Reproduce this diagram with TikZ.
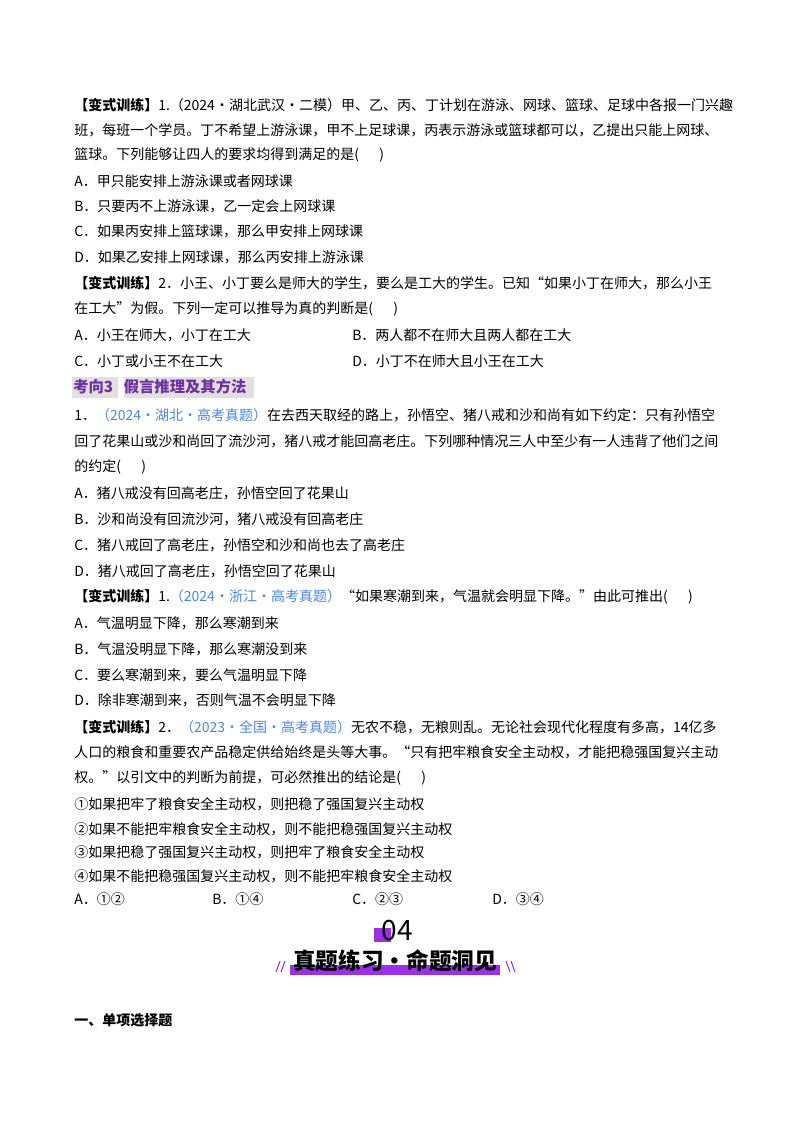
\documentclass[tikz,border=0pt]{standalone}
\usepackage{fontspec}
\setmainfont{Noto Sans CJK SC}
\definecolor{pur}{HTML}{7030A0}
\definecolor{blu}{HTML}{4A86E8}
\definecolor{hl}{HTML}{E0E0E0}
\definecolor{bar}{HTML}{9B30E8}
\begin{document}
\begin{tikzpicture}[x=0.75pt,y=-0.75pt,
  t/.style={anchor=west,inner sep=0pt,font=\fontsize{10.5pt}{12pt}\selectfont},
  sb/.style={text=blu}]
\useasboundingbox (0,0) rectangle (800,1132);
\node[t] (a1) at (74,105) {\textbf{【变式训练】}1.（2024·湖北武汉·二模）甲、乙、丙、丁计划在游泳、网球、篮球、足球中各报一门兴趣};
\node[t] (a2) at (74,130) {班，每班一个学员。丁不希望上游泳课，甲不上足球课，丙表示游泳或篮球都可以，乙提出只能上网球、};
\node[t] (a3) at (74,155) {篮球。下列能够让四人的要求均得到满足的是(\quad\ \ )};
\node[t] (a4) at (74,181) {A．甲只能安排上游泳课或者网球课};
\node[t] (a5) at (74,206) {B．只要丙不上游泳课，乙一定会上网球课};
\node[t] (a6) at (74,231) {C．如果丙安排上篮球课，那么甲安排上网球课};
\node[t] (a7) at (74,257) {D．如果乙安排上网球课，那么丙安排上游泳课};
\node[t] (b1) at (74,283) {\textbf{【变式训练】}2．小王、小丁要么是师大的学生，要么是工大的学生。已知“如果小丁在师大，那么小王};
\node[t] (b2) at (74,309) {在工大”为假。下列一定可以推导为真的判断是(\quad\ \ )};
\node[t] (b3) at (74,335) {A．小王在师大，小丁在工大};
\node[t] (b4) at (352,335) {B．两人都不在师大且两人都在工大};
\node[t] (b5) at (74,361) {C．小丁或小王不在工大};
\node[t] (b6) at (352,361) {D．小丁不在师大且小王在工大};
\fill[hl] (72,377) rectangle (118,398);
\fill[hl] (124,377) rectangle (254,398);
\node[t,text=pur,font=\fontsize{11.5pt}{13pt}\selectfont\bfseries] (h) at (73,387) {考向3\ \ \ 假言推理及其方法};
\node[t] (c1) at (74,415) {1．\textcolor{blu}{（2024·湖北·高考真题）}在去西天取经的路上，孙悟空、猪八戒和沙和尚有如下约定：只有孙悟空};
\node[t] (c2) at (74,441) {回了花果山或沙和尚回了流沙河，猪八戒才能回高老庄。下列哪种情况三人中至少有一人违背了他们之间};
\node[t] (c3) at (74,467) {的约定(\quad\ \ )};
\node[t] (c4) at (74,493) {A．猪八戒没有回高老庄，孙悟空回了花果山};
\node[t] (c5) at (74,519) {B．沙和尚没有回流沙河，猪八戒没有回高老庄};
\node[t] (c6) at (74,545) {C．猪八戒回了高老庄，孙悟空和沙和尚也去了高老庄};
\node[t] (c7) at (74,571) {D．猪八戒回了高老庄，孙悟空回了花果山};
\node[t] (d1) at (74,597) {\textbf{【变式训练】}1.\textcolor{blu}{（2024·浙江·高考真题）}“如果寒潮到来，气温就会明显下降。”由此可推出(\quad\ \ )};
\node[t] (d2) at (74,623) {A．气温明显下降，那么寒潮到来};
\node[t] (d3) at (74,649) {B．气温没明显下降，那么寒潮没到来};
\node[t] (d4) at (74,675) {C．要么寒潮到来，要么气温明显下降};
\node[t] (d5) at (74,700) {D．除非寒潮到来，否则气温不会明显下降};
\node[t] (e1) at (74,727) {\textbf{【变式训练】}2．\textcolor{blu}{（2023·全国·高考真题）}无农不稳，无粮则乱。无论社会现代化程度有多高，14亿多};
\node[t] (e2) at (74,752) {人口的粮食和重要农产品稳定供给始终是头等大事。“只有把牢粮食安全主动权，才能把稳强国复兴主动};
\node[t] (e3) at (74,778) {权。”以引文中的判断为前提，可必然推出的结论是(\quad\ \ )};
\node[t] (e4) at (74,804) {①如果把牢了粮食安全主动权，则把稳了强国复兴主动权};
\node[t] (e5) at (74,829) {②如果不能把牢粮食安全主动权，则不能把稳强国复兴主动权};
\node[t] (e6) at (74,852) {③如果把稳了强国复兴主动权，则把牢了粮食安全主动权};
\node[t] (e7) at (74,876) {④如果不能把稳强国复兴主动权，则不能把牢粮食安全主动权};
\node[t] (e8) at (74,899) {A．①②};
\node[t] (e9) at (212,899) {B．①④};
\node[t] (e10) at (352,899) {C．②③};
\node[t] (e11) at (492,899) {D．③④};
% banner
\fill[bar] (374,928) rectangle (391,942);
\node[inner sep=0pt,font=\fontsize{21pt}{22pt}\selectfont] (n04) at (397,931) {04};
\fill[bar] (290,965) rectangle (500,975);
\node[inner sep=0pt,font=\fontsize{17pt}{18pt}\selectfont\bfseries] (tt) at (395,961) {真题练习·命题洞见};
\draw[bar,line width=0.8pt] (276,972) -- (280,961) (281,972) -- (285,961);
\draw[bar,line width=0.8pt] (506,961) -- (510,972) (511,961) -- (515,972);
\node[t,font=\fontsize{10.5pt}{12pt}\selectfont\bfseries] (s) at (74,1020) {一、单项选择题};
\end{tikzpicture}
\end{document}
